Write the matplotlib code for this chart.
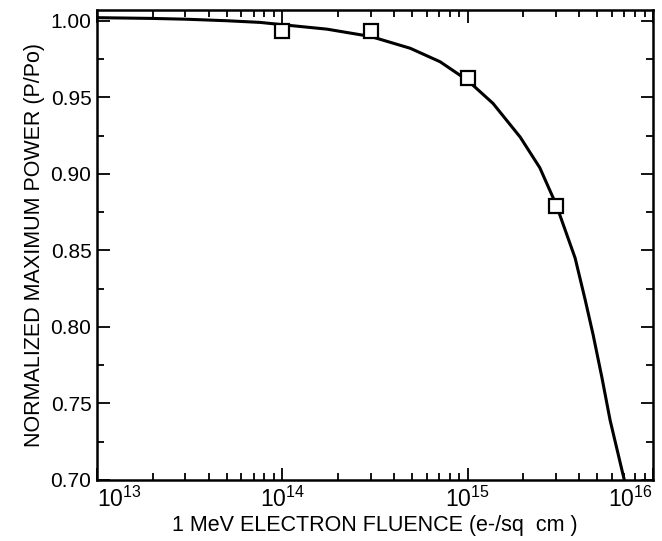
import numpy as np
import matplotlib
matplotlib.use('Agg')
import matplotlib.pyplot as plt
from matplotlib.ticker import LogLocator, MultipleLocator, NullFormatter

# measured points (squares)
fluence_pts = [1e14, 3e14, 1e15, 3e15]
power_pts = [0.9936, 0.9934, 0.9625, 0.879]

# fitted curve
fluence_curve = [1e13, 2e13, 3e13, 5e13, 7.6e13, 1e14, 1.74e14, 3e14, 4.9e14, 7.1e14,
                 1e15, 1.37e15, 1.92e15, 2.45e15, 3e15, 3.8e15, 4.3e15, 4.75e15, 5.3e15,
                 5.87e15, 7.0e15]
power_curve = [1.002, 1.0015, 1.001, 1.000, 0.9989, 0.9974, 0.9945, 0.9897, 0.982, 0.9732,
               0.961, 0.946, 0.924, 0.904, 0.880, 0.845, 0.818, 0.795, 0.767,
               0.739, 0.700]
xtick_vals = [1e13, 1e14, 1e15, 1e16]

plt.rcParams['font.family'] = ['Liberation Sans', 'DejaVu Sans']
plt.rcParams['mathtext.fontset'] = 'custom'
plt.rcParams['mathtext.rm'] = 'Liberation Sans'

fig = plt.figure(figsize=(6.62, 5.41), dpi=100)
ax = fig.add_axes([0.1465, 0.1128, 0.8399, 0.8687])

ax.plot(fluence_curve, power_curve, color='black', linewidth=2.2)
ax.plot(fluence_pts, power_pts, linestyle='none', marker='s', markersize=10,
        markerfacecolor='white', markeredgecolor='black', markeredgewidth=1.6)

ax.set_xscale('log')
ax.set_xlim(1e13, 1e16)
ax.set_ylim(0.70, 1.007)

ax.set_xticks(xtick_vals)
ax.set_xticklabels([r'$\mathregular{10^{%d}}$' % int(np.log10(v)) for v in xtick_vals])
ax.xaxis.set_minor_locator(LogLocator(base=10, subs=np.arange(2, 10), numticks=10))
ax.xaxis.set_minor_formatter(NullFormatter())
ax.yaxis.set_major_locator(MultipleLocator(0.05))
ax.yaxis.set_minor_locator(MultipleLocator(0.025))
ax.yaxis.set_major_formatter(plt.FormatStrFormatter('%.2f'))

ax.tick_params(which='both', direction='in', top=True, right=True, width=1.3,
               labelsize=15, colors='black')
ax.tick_params(axis='x', labelsize=16.5)
ax.tick_params(which='major', length=9)
ax.tick_params(which='minor', length=5)
ax.tick_params(axis='x', pad=5)
ax.tick_params(axis='y', pad=4)

for s in ax.spines.values():
    s.set_linewidth(1.8)

xlabels = ax.get_xticklabels()
xlabels[0].set_horizontalalignment('left')
xlabels[-1].set_horizontalalignment('right')

ax.set_xlabel('1 MeV ELECTRON FLUENCE (e-/sq  cm )', fontsize=15.5, labelpad=2)
ax.set_ylabel('NORMALIZED MAXIMUM POWER (P/Po)', fontsize=15.5, labelpad=4)

fig.savefig('out.png', dpi=100)
